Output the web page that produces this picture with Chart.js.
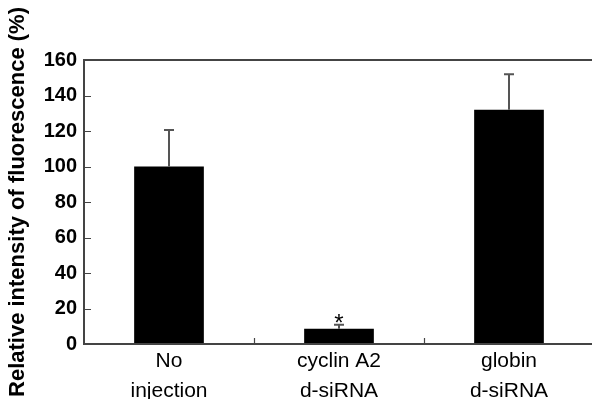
<!DOCTYPE html>
<html>
<head>
<meta charset="utf-8">
<script src="https://cdn.jsdelivr.net/npm/chart.js@4"></script>
<style>
  html, body { margin: 0; padding: 0; background: #fff; overflow: hidden; }
  #wrap { width: 600px; height: 399px; }
</style>
</head>
<body>
<div id="wrap"><canvas id="chart"></canvas></div>
<script>
// Data
const categories = [["No", "injection"], ["cyclin A2", "d-siRNA"], ["globin", "d-siRNA"]];
const values = [100, 8.6, 132];
const errors = [20.5, 2.3, 20];
const marks = ["", "*", ""];
const yTicks = [0, 20, 40, 60, 80, 100, 120, 140, 160];

const axisColor = "#444";

// Error bars (upper only) + significance marks
const errorBars = {
    id: "errorBars",
    afterDatasetsDraw(chart) {
        const { ctx, scales: { x, y } } = chart;
        ctx.save();
        ctx.strokeStyle = "#555";
        ctx.lineWidth = 2;
        values.forEach((v, i) => {
            const cx = x.getPixelForValue(i);
            const top = y.getPixelForValue(v + errors[i]);
            const base = y.getPixelForValue(v);
            ctx.beginPath();
            ctx.moveTo(cx, base);
            ctx.lineTo(cx, top);
            ctx.moveTo(cx - 5, top);
            ctx.lineTo(cx + 5, top);
            ctx.stroke();
            if (marks[i]) {
                ctx.fillStyle = "#000";
                ctx.font = "24px 'Liberation Sans', Arial, sans-serif";
                ctx.textAlign = "center";
                ctx.textBaseline = "alphabetic";
                ctx.fillText(marks[i], cx, top + 6);
            }
        });
        ctx.restore();
    }
};

// Frame (top line) and inward tick marks
const frame = {
    id: "frame",
    afterDraw(chart) {
        const { ctx, chartArea: a, scales: { x, y } } = chart;
        ctx.save();
        ctx.strokeStyle = axisColor;
        ctx.lineWidth = 2;
        ctx.beginPath();
        ctx.moveTo(a.left, a.bottom);
        ctx.lineTo(a.left, a.top);
        ctx.lineTo(a.right, a.top);
        ctx.lineTo(a.right, a.bottom);
        ctx.closePath();
        ctx.stroke();
        ctx.lineWidth = 1.2;
        ctx.beginPath();
        yTicks.forEach(t => {
            const py = Math.round(y.getPixelForValue(t)) + 0.5;
            ctx.moveTo(a.left, py);
            ctx.lineTo(a.left + 7, py);
        });
        for (let i = 1; i < categories.length; i++) {
            const px = Math.round((x.getPixelForValue(i - 1) + x.getPixelForValue(i)) / 2) + 0.5;
            ctx.moveTo(px, a.bottom);
            ctx.lineTo(px, a.bottom - 6);
        }
        ctx.stroke();
        ctx.restore();
    }
};

new Chart(document.getElementById("chart"), {
    type: "bar",
    data: {
        labels: categories,
        datasets: [{
            data: values,
            backgroundColor: "#000",
            borderWidth: 0,
            barPercentage: 0.41,
            categoryPercentage: 1.0
        }]
    },
    options: {
        responsive: true,
        maintainAspectRatio: false,
        animation: false,
        layout: { padding: { top: 60, right: 6, left: 0, bottom: 0 } },
        plugins: {
            legend: { display: false },
            tooltip: { enabled: false }
        },
        scales: {
            x: {
                grid: { display: false, drawTicks: false },
                border: { display: false },
                afterFit(scale) { scale.height = 55; },
                ticks: {
                    color: "#000",
                    padding: 3,
                    maxRotation: 0,
                    font: { family: "'Liberation Sans', Arial, sans-serif", size: 21, lineHeight: 1.4 }
                }
            },
            y: {
                min: 0,
                max: 160,
                afterBuildTicks(scale) { scale.ticks = yTicks.map(v => ({ value: v })); },
                afterFit(scale) { scale.width = 84; },
                grid: { display: false, drawTicks: false },
                border: { display: false },
                ticks: {
                    color: "#000",
                    padding: 7,
                    font: { family: "'Liberation Sans', Arial, sans-serif", size: 20, weight: "bold" }
                },
                title: {
                    display: true,
                    text: "Relative intensity of fluorescence (%)",
                    color: "#000",
                    padding: { top: 5, bottom: 0 },
                    font: { family: "'Liberation Sans', Arial, sans-serif", size: 22, weight: "bold" }
                }
            }
        }
    },
    plugins: [errorBars, frame]
});
</script>
</body>
</html>
